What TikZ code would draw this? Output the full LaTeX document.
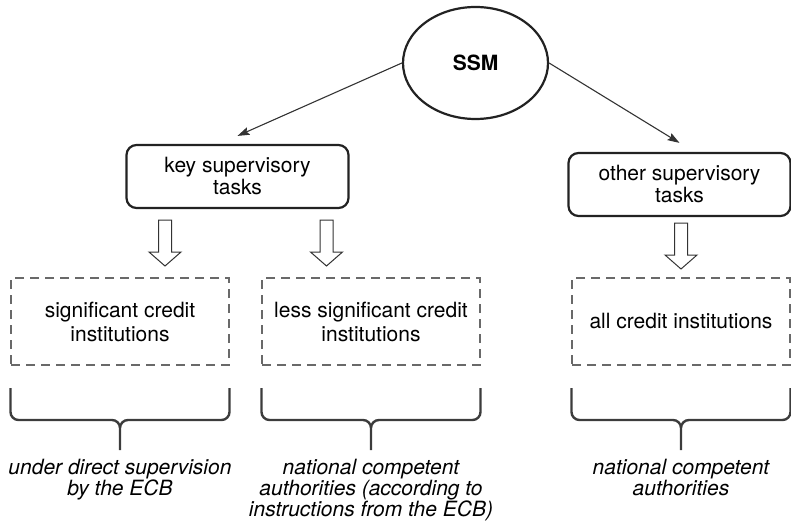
\documentclass[tikz,border=0pt]{standalone}
\usepackage{fontspec}
\setmainfont{TeX Gyre Heros}
\usepackage{tikz}
\usetikzlibrary{calc}
\usetikzlibrary{arrows.meta}
\usetikzlibrary{shapes.geometric}
\definecolor{darkline}{RGB}{34,34,34}
\definecolor{midline}{RGB}{51,51,51}
\definecolor{braceline}{RGB}{60,60,60}
\definecolor{dashgray}{RGB}{105,105,105}
\newcommand{\widthtask}{222pt}
\newcommand{\widthinst}{218pt}
\newcommand{\widthbrace}{109.5}
\tikzset{
    common/.style={draw=darkline, line width=2.2pt, align=center, inner sep=0pt, font=\fontsize{21}{22}\selectfont},
    root/.style={common, ellipse, minimum width=145pt, minimum height=112pt, font=\fontsize{21}{22}\selectfont\bfseries},
    task/.style={common, rectangle, rounded corners=10pt, minimum width=\widthtask, minimum height=63pt},
    inst/.style={common, draw=dashgray, line width=1.4pt, dash pattern=on 9pt off 6pt, minimum width=\widthinst, minimum height=87pt, font=\fontsize{21}{24}\selectfont},
    who/.style={anchor=north, align=center, inner sep=0pt, font=\fontsize{21}{21}\selectfont\itshape},
    link/.style={-{Stealth[length=12pt, width=8pt, inset=2pt]}, midline, line width=1.1pt},
    hollowarrow/.pic={
        \draw[midline, line width=1pt, line join=miter]
            (-6.5,0) -- (-6.5,32) -- (-16,32) -- (0,46) -- (16,32) -- (6.5,32) -- (6.5,0) -- cycle;
    },
    curly/.pic={
        \draw[braceline, line width=2.4pt, rounded corners=8pt]
            (-\widthbrace,0) -- (-\widthbrace,32) -- (0,32) -- (0,62)
            (\widthbrace,0) -- (\widthbrace,32) -- (0,32) -- (0,62);
    }
}
\begin{document}
\begin{tikzpicture}[x=1pt, y=-1pt]
    \useasboundingbox (0,0) rectangle (791,529);

    \node[root] (ssm) at (475.5,63) {SSM};
    \node[task] (key) at (237.5,176.5) {key supervisory\\tasks};
    \node[task] (other) at (679.5,184.5) {other supervisory\\tasks};

    \draw[link] (ssm.west) -- ($(key.north)+(0,-8)$);
    \draw[link] (ssm.east) -- ($(other.north)+(0,-9)$);

    \path
        (120,321.5) node[inst] (sig) {significant credit\\institutions}
        ++(251,0) node[inst] (less) {less significant credit\\institutions}
        ++(310,0) node[inst] (all) {all credit institutions};

    \pic at (165,220) {hollowarrow};
    \pic at (326.5,220) {hollowarrow};
    \pic at (681,223) {hollowarrow};

    \pic at (sig.center |- 0,388) {curly};
    \pic at (less.center |- 0,388) {curly};
    \pic at (all.center |- 0,388) {curly};

    \node[who] (ecb) at (120,459) {under direct supervision\\by the ECB};
    \node[who] (ncaecb) at (371,459) {national competent\\authorities (according to\\instructions from the ECB)};
    \node[who] (nca) at (681,459) {national competent\\authorities};
\end{tikzpicture}
\end{document}
